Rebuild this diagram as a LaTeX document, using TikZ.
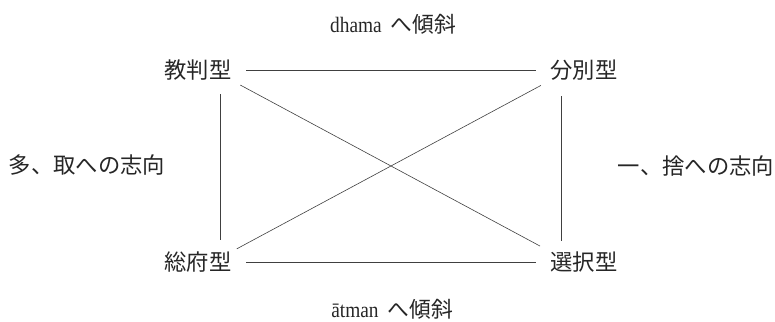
\documentclass[tikz,border=0pt]{standalone}
\usepackage{fontspec}
\usepackage{graphicx}
\newfontfamily\jp{Noto Sans CJK JP}
\newfontfamily\latn{Liberation Serif}
\tikzset{
  lbl/.style={inner sep=0pt, outer sep=0pt, anchor=center, text=black!85,
    font=\fontsize{22.3}{26}\selectfont\jp},
  mixed/.style={inner sep=0pt, outer sep=0pt, anchor=center, text=black!85},
  conn/.style={draw=black!75, line width=0.6pt},
}
\newcommand{\lat}[1]{\scalebox{0.88}[1]{\fontsize{22}{26}\selectfont\latn #1}}
\newcommand{\jpt}[1]{{\fontsize{21.7}{26}\selectfont\jp #1}}
\begin{document}
\begin{tikzpicture}[x=1pt,y=-1pt]
\useasboundingbox (0,0) rectangle (775,321);
\node[mixed] (top) at (393,24) {\lat{dhama}\hspace{9pt}\jpt{へ傾斜}};
\node[mixed] (bot) at (392,309) {\lat{ātman}\hspace{9pt}\jpt{へ傾斜}};
\node[lbl] (A) at (198,70) {教判型};
\node[lbl] (B) at (584,70) {分別型};
\node[lbl] (C) at (198,262) {総府型};
\node[lbl] (D) at (584,262) {選択型};
\node[lbl] (L) at (87,165) {多、取への志向};
\node[lbl] (R) at (696,166) {一、捨への志向};
% horizontals
\draw[conn, shorten <=15pt, shorten >=15pt] (A.east) -- (B.west);
\draw[conn, shorten <=15pt, shorten >=15pt] (C.east) -- (D.west);
% verticals
\draw[conn, shorten <=14pt, shorten >=12pt] ([xshift=-11pt]A.south east) -- ([xshift=-11pt]C.north east);
\draw[conn, shorten <=16pt, shorten >=11pt] ([xshift=11pt]B.south west) -- ([xshift=11pt]D.north west);
% diagonals
\draw[conn, shorten <=10pt, shorten >=12pt] (A.south east) -- (D.north west);
\draw[conn, shorten <=6pt, shorten >=11pt] (C.north east) -- (B.south west);
\end{tikzpicture}
\end{document}
